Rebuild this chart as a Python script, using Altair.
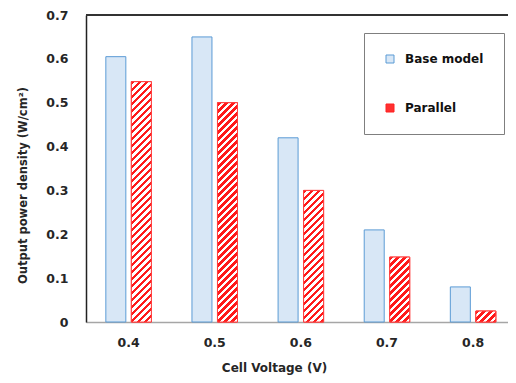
import altair as alt
import pandas as pd

voltages = ["0.4", "0.5", "0.6", "0.7", "0.8"]
base_model = [0.605, 0.65, 0.42, 0.21, 0.08]
parallel = [0.548, 0.50, 0.30, 0.148, 0.025]
series_names = ["Base model", "Parallel"]
y_ticks = [0, 0.1, 0.2, 0.3, 0.4, 0.5, 0.6, 0.7]

W, H = 422, 307
Y_MAX = 0.7
BAR_W = 20
FONT = "DejaVu Sans"
TXT = "#262626"

rows = []
for v, b, p in zip(voltages, base_model, parallel):
    rows.append({"voltage": v, "series": "Base model", "value": b})
    rows.append({"voltage": v, "series": "Parallel", "value": p})
df = pd.DataFrame(rows)


def hatch(value, period=7.0, red_frac=0.55, red="#ff1a1a", white="#ffffff"):
    """Diagonal '/' hatch as a hard-stop linear gradient for a bar of given value."""
    h = max(value / Y_MAX * H, 1.0)
    w = float(BAR_W)
    k = (w + h) / (w * w + h * h)
    total = w + h
    stops = []
    pos = 0.0
    while pos < total:
        a = pos / total
        b = min((pos + period * red_frac) / total, 1.0)
        c = min((pos + period) / total, 1.0)
        stops.append({"offset": a, "color": red})
        stops.append({"offset": b, "color": red})
        if b < 1.0:
            stops.append({"offset": b, "color": white})
            stops.append({"offset": c, "color": white})
        pos += period
    return {"gradient": "linear", "x1": 0, "y1": 0, "x2": k * w, "y2": k * h, "stops": stops}


x_enc = alt.X(
    "voltage:N",
    sort=voltages,
    scale=alt.Scale(domain=voltages, paddingInner=0.4716, paddingOuter=0.1858, align=0.62),
    axis=alt.Axis(
        title="Cell Voltage (V)",
        labelAngle=0,
        ticks=False,
        domainColor="#a6a6a6",
        domainWidth=1.5,
        labelFont=FONT,
        labelFontSize=12.5,
        labelFontWeight="bold",
        labelColor=TXT,
        labelPadding=14,
        titleFont=FONT,
        titleFontSize=12,
        titleFontWeight="bold",
        titleColor=TXT,
        titleX=188,
        titleY=45,
        titleBaseline="middle",
        titleAnchor="middle",
        grid=False,
    ),
)
xoff_enc = alt.XOffset("series:N", scale=alt.Scale(domain=series_names, paddingInner=0.216))
y_enc = alt.Y(
    "value:Q",
    scale=alt.Scale(domain=[0, Y_MAX], nice=False, zero=True),
    axis=alt.Axis(
        title="Output power density (W/cm²)",
        values=y_ticks,
        labelExpr="datum.value == 0 ? '0' : format(datum.value, '.1f')",
        ticks=False,
        grid=False,
        domainColor="#222222",
        domainWidth=1.5,
        labelFont=FONT,
        labelFontSize=12.5,
        labelFontWeight="bold",
        labelColor=TXT,
        labelPadding=18,
        titleFont=FONT,
        titleFontSize=11.5,
        titleFontWeight="bold",
        titleColor=TXT,
        titleX=-63,
        titleY=170,
        titleAngle=-90,
        titleBaseline="middle",
        titleAlign="center",
    ),
)

legend = alt.Legend(
    title=None,
    orient="none",
    legendX=278,
    legendY=18,
    strokeColor="#7f7f7f",
    fillColor="#ffffff",
    padding=20,
    rowPadding=37,
    symbolType="square",
    symbolSize=64,
    symbolStrokeWidth=1,
    labelFont=FONT,
    labelFontSize=12,
    labelFontWeight="bold",
    labelColor="#111111",
    labelOffset=9,
)

base = alt.Chart(df).mark_bar(strokeWidth=1).encode(
    x=x_enc,
    xOffset=xoff_enc,
    y=y_enc,
    fill=alt.Fill("series:N", scale=alt.Scale(domain=series_names, range=["#d8e7f6", "#ff3030"]), legend=legend),
    stroke=alt.Stroke("series:N", scale=alt.Scale(domain=series_names, range=["#5b9bd5", "#ff2020"]), legend=legend),
)

layers = [base]
for v, p in zip(voltages, parallel):
    layers.append(
        alt.Chart(df)
        .transform_filter((alt.datum.series == "Parallel") & (alt.datum.voltage == v))
        .mark_bar(fill=hatch(p), stroke="#ff4040", strokeWidth=1)
        .encode(x=x_enc, xOffset=xoff_enc, y=y_enc)
    )

top_rule = alt.Chart(df).mark_rule(color="#333333", strokeWidth=1.5).encode(
    x=alt.value(0), x2=alt.value(W), y=alt.value(0)
)
layers.append(top_rule)

chart = (
    alt.layer(*layers)
    .properties(
        width=W,
        height=H,
        autosize=alt.AutoSizeParams(type="none"),
        padding={"left": 78, "top": 7, "right": 0, "bottom": 53},
    )
    .configure_view(stroke="#c8c8c8", strokeWidth=1)
    .configure(background="#ffffff")
)

chart.save("out.html", embed_options={"renderer": "svg", "actions": False})
